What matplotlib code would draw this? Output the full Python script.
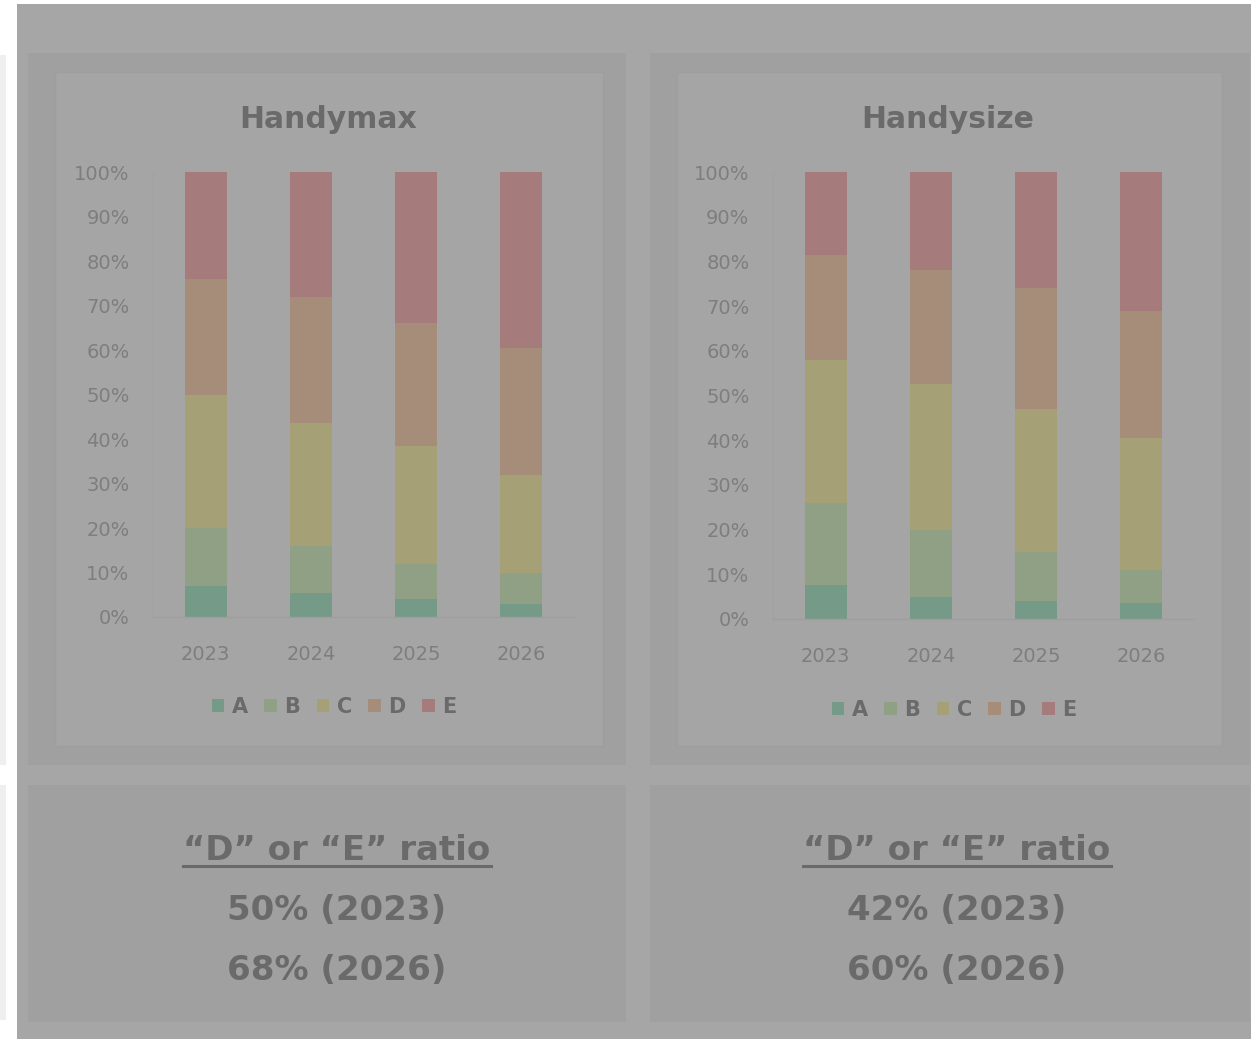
import matplotlib
matplotlib.use("Agg")
import matplotlib.pyplot as plt
from matplotlib.patches import Rectangle
from matplotlib.lines import Line2D

# ---- data -------------------------------------------------------------
years = ["2023", "2024", "2025", "2026"]
grades = ["A", "B", "C", "D", "E"]

handymax_A = [7.0, 5.5, 4.0, 3.0]
handymax_B = [13.0, 10.5, 8.0, 7.0]
handymax_C = [30.0, 27.5, 26.5, 22.0]
handymax_D = [26.0, 28.5, 27.5, 28.5]
handymax_E = [24.0, 28.0, 34.0, 39.5]

handysize_A = [7.5, 5.0, 4.0, 3.5]
handysize_B = [18.5, 15.0, 11.0, 7.5]
handysize_C = [32.0, 32.5, 32.0, 29.5]
handysize_D = [23.5, 25.5, 27.0, 28.5]
handysize_E = [18.5, 22.0, 26.0, 31.0]

chart_titles = ["Handymax", "Handysize"]
ratio_heading = "\u201cD\u201d or \u201cE\u201d ratio"
ratio_2023 = [50, 42]
ratio_2026 = [68, 60]

y_ticks = [0, 10, 20, 30, 40, 50, 60, 70, 80, 90, 100]

# ---- styling ----------------------------------------------------------
W, H = 1251, 1039
grade_colors = ["#759a88", "#8fa085", "#a6a076", "#a68d7a", "#a57b7b"]
bg_main = "#a6a6a6"
bg_panel = "#a0a0a0"
bg_box = "#a5a5a5"
box_edge = "#9e9e9e"
text_dark = "#6a6a6a"
text_tick = "#7e7e7e"

fig = plt.figure(figsize=(W / 100, H / 100), dpi=100, facecolor="white")


def rect(x0, y0, x1, y1, color, z=-10, ec="none", lw=0):
    """Rectangle given in pixel coordinates measured from the top-left."""
    r = Rectangle((x0 / W, 1 - y1 / H), (x1 - x0) / W, (y1 - y0) / H,
                  transform=fig.transFigure, facecolor=color, edgecolor=ec,
                  linewidth=lw, zorder=z)
    fig.add_artist(r)


# page background and panels
rect(17, 4, W, H, bg_main, z=-20)
rect(0, 55, 6, 765, "#efefef", z=-20)
rect(0, 785, 6, 1020, "#efefef", z=-20)
for x0, x1 in [(28, 626), (650, 1250)]:
    rect(x0, 53, x1, 765, bg_panel, z=-15)
    rect(x0, 785, x1, 1022, bg_panel, z=-15)
rect(55, 72, 603, 746, bg_box, z=-12, ec=box_edge, lw=1.0)
rect(677, 72, 1222, 746, bg_box, z=-12, ec=box_edge, lw=1.0)

series_sets = [
    [handymax_A, handymax_B, handymax_C, handymax_D, handymax_E],
    [handysize_A, handysize_B, handysize_C, handysize_D, handysize_E],
]
axes_px = [(153.2, 172, 573.9, 617), (773, 172, 1194, 619)]
title_pos = [(328, 119), (948, 119)]
legend_pos = [(334, 707), (954, 710)]
ratio_x = [337, 957]

for k in range(2):
    l, t, r, b = axes_px[k]
    ax = fig.add_axes([l / W, 1 - b / H, (r - l) / W, (b - t) / H])
    ax.set_facecolor("none")
    x = list(range(len(years)))
    bottom = [0.0] * len(years)
    handles = []
    for g, vals, col in zip(grades, series_sets[k], grade_colors):
        bars = ax.bar(x, vals, bottom=bottom, width=0.4, color=col,
                      label=g, linewidth=0)
        handles.append(bars)
        bottom = [bb + v for bb, v in zip(bottom, vals)]
    ax.set_xlim(-0.5, 3.5)
    ax.set_ylim(0, 100)
    ax.set_yticks(y_ticks)
    ax.set_yticklabels([f"{v}%" for v in y_ticks])
    ax.set_xticks(x)
    ax.set_xticklabels(years)
    ax.tick_params(axis="y", length=0, pad=17, labelsize=14, labelcolor=text_tick)
    ax.tick_params(axis="x", length=0, pad=20, labelsize=14, labelcolor=text_tick)
    for s in ["top", "right"]:
        ax.spines[s].set_visible(False)
    ax.spines["left"].set_color("#a2a2a2")
    ax.spines["bottom"].set_color("#9e9e9e")
    ax.spines["left"].set_linewidth(1)
    ax.spines["bottom"].set_linewidth(1)

    tx, ty = title_pos[k]
    fig.text(tx / W, 1 - ty / H, chart_titles[k], ha="center", va="center",
             fontsize=21.5, fontweight="bold", color=text_dark)

    lx, ly = legend_pos[k]
    fig.legend(handles=handles, labels=grades, loc="center",
               bbox_to_anchor=(lx / W, 1 - ly / H), ncol=5, frameon=False,
               prop={"size": 15, "weight": "bold"}, labelcolor=text_dark,
               handlelength=0.6, handleheight=0.6, handletextpad=0.35,
               columnspacing=0.8, borderpad=0)

# ratio summary texts
heads = []
for k in range(2):
    cx = ratio_x[k] / W
    h = fig.text(cx, 1 - 860 / H, ratio_heading, ha="center", va="baseline",
                 fontsize=24.5, fontweight="bold", color=text_dark)
    heads.append(h)
    fig.text(cx, 1 - 920 / H, f"{ratio_2023[k]}% (2023)", ha="center",
             va="baseline", fontsize=24.5, fontweight="bold", color=text_dark)
    fig.text(cx, 1 - 980 / H, f"{ratio_2026[k]}% (2026)", ha="center",
             va="baseline", fontsize=24.5, fontweight="bold", color=text_dark)

# underline the headings
fig.canvas.draw()
renderer = fig.canvas.get_renderer()
for h in heads:
    bb = h.get_window_extent(renderer)
    yline = (H - 866) / H
    fig.add_artist(Line2D([bb.x0 / W, bb.x1 / W], [yline, yline],
                          transform=fig.transFigure, color=text_dark,
                          linewidth=2.2))

fig.savefig("out.png", dpi=100, facecolor=fig.get_facecolor())
